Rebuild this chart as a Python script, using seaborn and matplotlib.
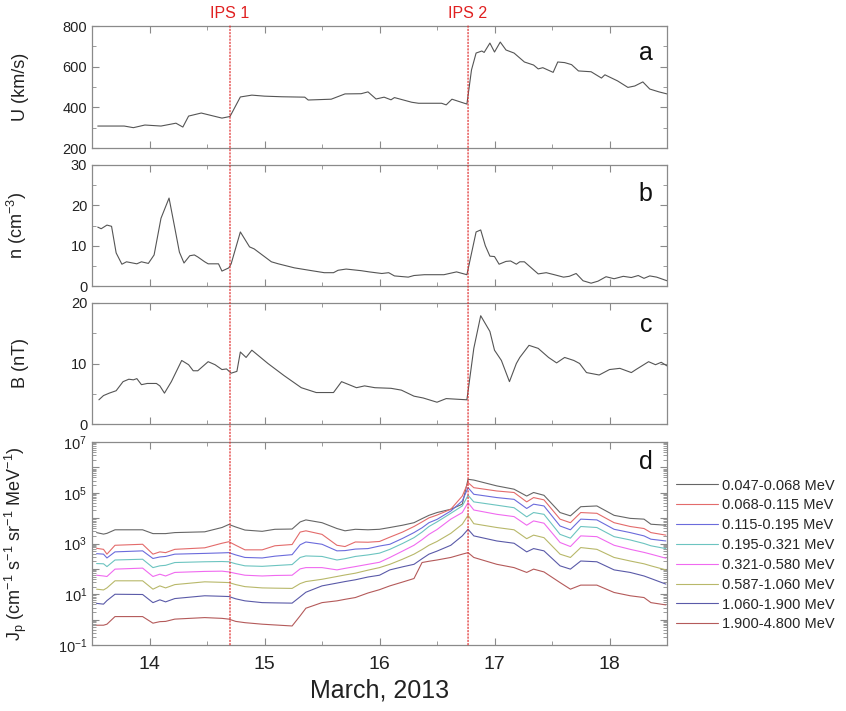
import matplotlib
matplotlib.use("Agg")
import matplotlib.pyplot as plt
import matplotlib.transforms as mtransforms
from matplotlib.patches import ConnectionPatch
from matplotlib.ticker import MultipleLocator, LogLocator, FuncFormatter, NullFormatter
import numpy as np
import pandas as pd
import seaborn as sns

# ---- shock times (day of March 2013) ----
ips_times = [14.70, 16.77]
ips_labels = ["IPS 1", "IPS 2"]

# ---- panel a: solar wind speed ----
t_u = [13.55, 13.78, 13.86, 13.96, 14.10, 14.23, 14.29, 14.34, 14.45, 14.63,
       14.70, 14.79, 14.89, 15.00, 15.15, 15.35, 15.38, 15.58, 15.70, 15.84,
       15.90, 15.97, 16.04, 16.10, 16.13, 16.28, 16.34, 16.54, 16.58, 16.63,
       16.76, 16.80, 16.84, 16.89, 16.91, 16.96, 17.00, 17.05, 17.10, 17.17,
       17.26, 17.34, 17.38, 17.42, 17.51, 17.55, 17.61, 17.67, 17.73, 17.84,
       17.93, 17.96, 18.07, 18.16, 18.22, 18.29, 18.35, 18.43, 18.50]
u_kms = [308, 308, 300, 313, 308, 322, 303, 357, 372, 347,
         355, 451, 460, 455, 452, 450, 436, 440, 466, 467,
         476, 441, 450, 437, 448, 425, 420, 420, 412, 440,
         416, 584, 667, 677, 670, 716, 672, 721, 682, 667,
         623, 608, 589, 595, 572, 623, 620, 610, 579, 575,
         544, 560, 530, 498, 505, 525, 490, 476, 466]

# ---- panel b: proton density ----
t_n = [13.55, 13.58, 13.63, 13.67, 13.71, 13.76, 13.80, 13.89, 13.93, 13.99,
       14.04, 14.10, 14.17, 14.22, 14.26, 14.30, 14.35, 14.39, 14.42, 14.48,
       14.51, 14.60, 14.63, 14.69, 14.71, 14.79, 14.87, 14.91, 15.06, 15.12,
       15.26, 15.41, 15.52, 15.60, 15.64, 15.71, 15.84, 15.91, 16.02, 16.08,
       16.13, 16.25, 16.30, 16.39, 16.56, 16.67, 16.76, 16.84, 16.88, 16.92,
       16.96, 17.00, 17.04, 17.10, 17.14, 17.19, 17.22, 17.26, 17.32, 17.38,
       17.45, 17.52, 17.60, 17.65, 17.71, 17.77, 17.84, 17.90, 17.97, 18.04,
       18.12, 18.19, 18.25, 18.30, 18.35, 18.41, 18.50]
n_cm3 = [14.6, 14.2, 15.1, 14.8, 8.2, 5.4, 6.0, 5.5, 6.0, 5.6,
         7.7, 16.8, 21.8, 14.4, 8.4, 5.7, 7.5, 7.7, 7.2, 6.0,
         5.5, 5.5, 3.7, 4.5, 5.5, 13.4, 9.7, 9.2, 6.0, 5.5,
         4.5, 3.8, 3.3, 3.3, 3.9, 4.2, 3.8, 3.5, 3.1, 3.3,
         2.5, 2.2, 2.6, 2.8, 2.8, 3.5, 2.8, 13.4, 13.9, 10.0,
         7.4, 7.3, 5.4, 6.1, 6.2, 5.4, 6.0, 6.0, 4.5, 3.0,
         3.3, 2.8, 2.2, 2.4, 3.1, 1.3, 0.7, 1.2, 2.3, 1.8,
         2.4, 2.1, 2.6, 1.9, 2.5, 2.2, 1.3]

# ---- panel c: magnetic field magnitude ----
t_b = [13.56, 13.60, 13.65, 13.71, 13.77, 13.82, 13.86, 13.89, 13.93, 13.98,
       14.06, 14.09, 14.13, 14.19, 14.28, 14.34, 14.38, 14.42, 14.51, 14.57,
       14.63, 14.67, 14.71, 14.76, 14.79, 14.84, 14.89, 15.03, 15.17, 15.32,
       15.45, 15.60, 15.67, 15.80, 15.87, 15.96, 16.10, 16.19, 16.30, 16.38,
       16.50, 16.58, 16.67, 16.76, 16.82, 16.88, 16.96, 17.00, 17.06, 17.13,
       17.19, 17.22, 17.30, 17.38, 17.47, 17.54, 17.61, 17.69, 17.74, 17.80,
       17.91, 18.00, 18.09, 18.19, 18.23, 18.34, 18.40, 18.45, 18.50]
b_nt = [4.0, 4.7, 5.1, 5.5, 7.0, 7.4, 7.3, 7.5, 6.5, 6.7,
        6.7, 6.3, 5.1, 7.0, 10.5, 9.8, 8.8, 8.8, 10.3, 9.8,
        9.0, 9.1, 8.4, 8.7, 11.9, 11.0, 12.2, 10.0, 8.0, 6.0,
        5.2, 5.2, 7.0, 6.0, 6.3, 6.0, 5.9, 5.6, 4.6, 4.3,
        3.6, 4.2, 4.1, 4.0, 12.5, 17.9, 15.3, 12.2, 10.5, 7.0,
        10.0, 11.0, 13.0, 12.5, 11.0, 10.1, 11.0, 10.5, 10.0, 8.5,
        8.1, 9.0, 9.2, 8.5, 9.0, 10.3, 9.8, 10.2, 9.6]

# ---- panel d: proton intensities (log10 of flux) ----
t_j = [13.54, 13.60, 13.63, 13.70, 13.94, 14.03, 14.09, 14.14, 14.22, 14.48,
       14.63, 14.69, 14.75, 14.83, 14.98, 15.09, 15.24, 15.31, 15.36, 15.50,
       15.63, 15.70, 15.79, 15.90, 16.00, 16.09, 16.20, 16.30, 16.37, 16.43,
       16.50, 16.62, 16.72, 16.77, 16.82, 17.02, 17.17, 17.28, 17.34, 17.43,
       17.57, 17.66, 17.75, 17.89, 18.04, 18.18, 18.30, 18.36, 18.49]
bands = ["0.047-0.068 MeV", "0.068-0.115 MeV", "0.115-0.195 MeV", "0.195-0.321 MeV",
         "0.321-0.580 MeV", "0.587-1.060 MeV", "1.060-1.900 MeV", "1.900-4.800 MeV"]
band_colors = ["#666666", "#e36b6b", "#6b6bdc", "#6cc4c0",
               "#f06af0", "#b8b86a", "#5a5aa8", "#b45a5a"]
logj_1 = [3.43, 3.37, 3.40, 3.54, 3.54, 3.39, 3.39, 3.39, 3.43, 3.46,
          3.63, 3.75, 3.65, 3.53, 3.48, 3.56, 3.57, 3.85, 3.93, 3.82,
          3.59, 3.50, 3.56, 3.54, 3.56, 3.63, 3.72, 3.82, 3.98, 4.11,
          4.22, 4.35, 4.55, 5.53, 5.50, 5.27, 5.14, 4.87, 5.01, 4.90,
          4.22, 4.09, 4.45, 4.48, 4.11, 3.99, 3.96, 3.76, 3.72]
logj_2 = [2.81, 2.77, 2.58, 2.93, 2.97, 2.58, 2.67, 2.64, 2.77, 2.83,
          3.01, 3.07, 2.93, 2.75, 2.75, 2.91, 2.96, 3.45, 3.50, 3.36,
          2.93, 2.88, 3.06, 3.05, 3.08, 3.25, 3.45, 3.67, 3.85, 4.01,
          4.12, 4.35, 4.87, 5.40, 5.20, 5.07, 5.01, 4.64, 4.81, 4.72,
          3.96, 3.82, 4.22, 4.19, 3.82, 3.67, 3.59, 3.43, 3.33]
logj_3 = [2.60, 2.58, 2.43, 2.67, 2.71, 2.41, 2.47, 2.49, 2.58, 2.61,
          2.63, 2.64, 2.55, 2.45, 2.43, 2.50, 2.56, 2.95, 3.06, 2.97,
          2.71, 2.72, 2.78, 2.80, 2.90, 2.97, 3.20, 3.43, 3.62, 3.82,
          3.95, 4.28, 4.68, 5.20, 4.94, 4.81, 4.74, 4.38, 4.55, 4.48,
          3.69, 3.54, 3.96, 3.93, 3.56, 3.43, 3.30, 3.17, 3.10]
logj_4 = [2.21, 2.20, 2.09, 2.35, 2.38, 2.05, 2.12, 2.14, 2.25, 2.28,
          2.29, 2.28, 2.20, 2.12, 2.10, 2.13, 2.17, 2.45, 2.51, 2.49,
          2.35, 2.40, 2.49, 2.55, 2.62, 2.77, 3.00, 3.23, 3.45, 3.67,
          3.85, 4.19, 4.48, 4.90, 4.64, 4.51, 4.41, 4.05, 4.22, 4.15,
          3.36, 3.21, 3.67, 3.63, 3.27, 3.14, 3.00, 2.91, 2.80]
logj_5 = [1.75, 1.72, 1.70, 1.99, 2.03, 1.70, 1.79, 1.72, 1.86, 1.90,
          1.91, 1.88, 1.82, 1.75, 1.72, 1.74, 1.75, 2.00, 2.05, 2.05,
          1.96, 2.02, 2.09, 2.18, 2.26, 2.45, 2.70, 2.93, 3.15, 3.36,
          3.55, 3.96, 4.22, 4.61, 4.32, 4.15, 4.06, 3.72, 3.89, 3.80,
          3.04, 2.88, 3.30, 3.27, 2.93, 2.77, 2.65, 2.58, 2.42]
logj_6 = [1.20, 1.17, 1.25, 1.53, 1.53, 1.20, 1.33, 1.25, 1.38, 1.49,
          1.47, 1.46, 1.38, 1.30, 1.25, 1.24, 1.23, 1.42, 1.50, 1.59,
          1.70, 1.76, 1.83, 1.95, 2.05, 2.18, 2.38, 2.58, 2.76, 2.93,
          3.08, 3.40, 3.76, 4.11, 3.78, 3.63, 3.54, 3.19, 3.33, 3.23,
          2.58, 2.45, 2.84, 2.77, 2.45, 2.31, 2.20, 2.12, 1.96]
logj_7 = [0.64, 0.61, 0.75, 1.00, 0.99, 0.67, 0.78, 0.70, 0.83, 0.94,
          0.92, 0.91, 0.82, 0.74, 0.67, 0.66, 0.65, 0.90, 1.08, 1.33,
          1.44, 1.50, 1.57, 1.68, 1.75, 1.96, 2.08, 2.18, 2.40, 2.58,
          2.70, 2.93, 3.30, 3.56, 3.30, 3.10, 3.01, 2.67, 2.80, 2.71,
          2.12, 1.99, 2.31, 2.28, 1.96, 1.86, 1.72, 1.62, 1.40]
logj_8 = [-0.22, -0.22, -0.18, 0.12, 0.12, -0.14, -0.08, -0.07, 0.02, 0.08,
          0.05, 0.02, -0.07, -0.12, -0.18, -0.21, -0.25, 0.15, 0.45, 0.67,
          0.74, 0.80, 0.87, 1.05, 1.18, 1.33, 1.48, 1.62, 2.25, 2.30,
          2.35, 2.45, 2.58, 2.64, 2.45, 2.18, 2.05, 1.86, 1.99, 1.88,
          1.46, 1.20, 1.36, 1.36, 1.07, 0.94, 0.87, 0.67, 0.58]
logj_all = [logj_1, logj_2, logj_3, logj_4, logj_5, logj_6, logj_7, logj_8]

x_ticks = [14, 15, 16, 17, 18]

# ---- style ----
sns.set_style("ticks", {"axes.edgecolor": "#8a8a8a",
                        "xtick.direction": "in", "ytick.direction": "in"})
plt.rcParams["font.family"] = ["Liberation Sans", "DejaVu Sans"]
plt.rcParams["mathtext.fontset"] = "custom"
plt.rcParams["mathtext.rm"] = "Liberation Sans"
plt.rcParams["mathtext.it"] = "Liberation Sans:italic"

fig = plt.figure(figsize=(8.46, 7.11), dpi=100)
left, width = 92 / 846, 575 / 846
ax_a = fig.add_axes([left, 1 - 148 / 711, width, 122 / 711])
ax_b = fig.add_axes([left, 1 - 286 / 711, width, 121 / 711])
ax_c = fig.add_axes([left, 1 - 424 / 711, width, 121 / 711])
ax_d = fig.add_axes([left, 1 - 645 / 711, width, 203 / 711])
axes = [ax_a, ax_b, ax_c, ax_d]

line_col = "#555555"
sns.lineplot(x=t_u, y=u_kms, ax=ax_a, color=line_col, lw=0.8, estimator=None)
sns.lineplot(x=t_n, y=n_cm3, ax=ax_b, color=line_col, lw=0.8, estimator=None)
sns.lineplot(x=t_b, y=b_nt, ax=ax_c, color=line_col, lw=0.8, estimator=None)

df_j = pd.DataFrame({
    "time": np.tile(t_j, len(bands)),
    "flux": 10.0 ** np.concatenate(logj_all),
    "band": np.repeat(bands, len(t_j)),
})
sns.lineplot(data=df_j, x="time", y="flux", hue="band", hue_order=bands,
             palette=band_colors, ax=ax_d, lw=0.8, estimator=None)
ax_d.set_yscale("log")

# ---- axes limits and ticks ----
ax_a.set_ylim(200, 800)
ax_a.yaxis.set_major_locator(MultipleLocator(200))
ax_a.yaxis.set_minor_locator(MultipleLocator(100))
ax_b.set_ylim(0, 30)
ax_b.yaxis.set_major_locator(MultipleLocator(10))
ax_b.yaxis.set_minor_locator(MultipleLocator(5))
ax_c.set_ylim(0, 20)
ax_c.yaxis.set_major_locator(MultipleLocator(10))
ax_c.yaxis.set_minor_locator(MultipleLocator(5))
ax_d.set_ylim(1e-1, 1e7)
ax_d.yaxis.set_major_locator(LogLocator(base=10, numticks=20))
ax_d.yaxis.set_minor_locator(LogLocator(base=10, subs=np.arange(2, 10), numticks=20))
ax_d.yaxis.set_minor_formatter(NullFormatter())


def log_fmt(v, pos):
    e = int(round(np.log10(v)))
    return r"$10^{%d}$" % e if e % 2 != 0 else ""


ax_d.yaxis.set_major_formatter(FuncFormatter(log_fmt))

for ax in axes:
    ax.set_xlim(13.5, 18.5)
    ax.set_xticks(x_ticks)
    ax.xaxis.set_minor_locator(MultipleLocator(0.5))
    ax.tick_params(which="both", top=True, right=True, direction="in",
                   color="#8a8a8a", labelcolor="#222222")
    ax.tick_params(which="major", length=5, width=0.8, labelsize=10.5)
    ax.tick_params(which="minor", length=3, width=0.6)
    for sp in ax.spines.values():
        sp.set_linewidth(0.9)
    ax.set_xlabel("")
    if ax is not ax_d:
        ax.tick_params(labelbottom=False)

ax_d.tick_params(axis="x", which="major", labelsize=14, pad=8)

ylabels = ["U (km/s)", r"n (cm$^{-3}$)", "B (nT)",
           r"J$_{\rm p}$ (cm$^{-1}$ s$^{-1}$ sr$^{-1}$ MeV$^{-1}$)"]
letters = ["a", "b", "c", "d"]
letter_y = [0.78, 0.76, 0.82, 0.90]
for ax, yl, lt, ly in zip(axes, ylabels, letters, letter_y):
    ax.set_ylabel(yl, fontsize=13, color="#222222")
    ax.yaxis.set_label_coords(-0.11, 0.5)
    ax.text(0.975, ly, lt, transform=ax.transAxes, ha="right", va="center",
            fontsize=18, color="#111111")

ax_d.set_xlabel("March, 2013", fontsize=18, color="#222222", labelpad=4)

# ---- legend ----
handles, labels = ax_d.get_legend_handles_labels()
ax_d.legend(handles, labels, loc="upper left", bbox_to_anchor=(1.015, 0.82),
            frameon=False, fontsize=10.5, handlelength=2.9, handletextpad=0.3,
            labelspacing=0.4, borderaxespad=0, borderpad=0)

# ---- shock markers ----
trans = mtransforms.blended_transform_factory(ax_a.transData, ax_a.transAxes)
for t, lab in zip(ips_times, ips_labels):
    con = ConnectionPatch(xyA=(t, 800), coordsA=ax_a.transData,
                          xyB=(t, 1e-1), coordsB=ax_d.transData,
                          color="#e03030", lw=0.9, ls=(0, (1, 1.6)))
    fig.add_artist(con)
    ax_a.text(t, 1.1, lab, transform=trans, ha="center", va="center",
              fontsize=11.5, color="#e02020")

fig.savefig("out.png", dpi=100)
